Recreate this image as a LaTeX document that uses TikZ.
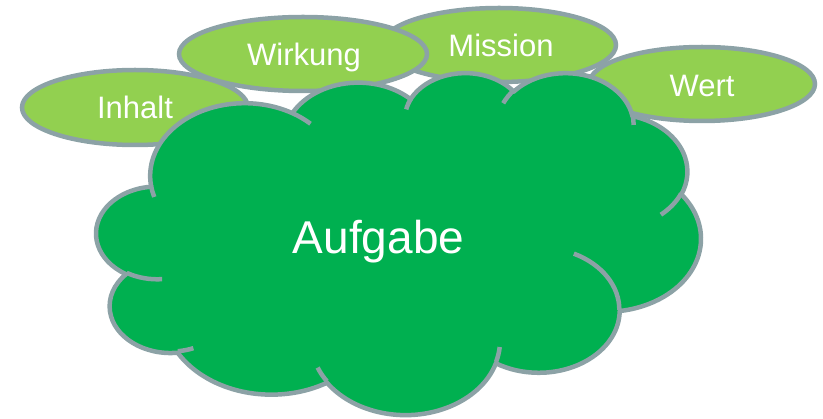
\documentclass[tikz,border=0pt]{standalone}
\usepackage{fontspec}
\setmainfont{Liberation Sans}
\usetikzlibrary{shapes.geometric}
\definecolor{outl}{RGB}{140,162,166}
\definecolor{lgreen}{RGB}{146,208,80}
\definecolor{dgreen}{RGB}{0,176,80}
\newcommand\paramang[4]{%
  \pgfmathsetmacro\padiff{atan2((#2)*sin(#4),(#3)*cos(#4)) - (#4)}%
  \pgfmathsetmacro#1{(#4) + \padiff - 360*round(\padiff/360)}}
\newcommand\arcang[6]{%
  \paramang{#1}{#3}{#4}{#5}%
  \paramang{#2}{#3}{#4}{(#5)+(#6)}}
\tikzset{
  bubble/.style={ellipse, draw=outl, fill=lgreen, line width=4.5pt, inner sep=0pt},
  lbl/.style={text=white, inner sep=0pt, anchor=base, font=\fontsize{31}{36}\selectfont},
  biglbl/.style={text=white, inner sep=0pt, anchor=base, font=\fontsize{46}{54}\selectfont},
  cloudshape/.style={draw=outl, fill=dgreen, line width=4.5pt, line join=round},
  cloudinner/.style={draw=outl, line width=4.5pt, line cap=butt}
}
\begin{document}
\begin{tikzpicture}[x=1pt, y=-1pt]
\useasboundingbox (0,0) rectangle (823,419);
% ellipses
\node[bubble, minimum width=226pt, minimum height=75pt] (inhalt) at (135,107.5) {};
\node[bubble, minimum width=234pt, minimum height=74pt] (mission) at (499,45) {};
\node[bubble, minimum width=248pt, minimum height=74pt] (wirkung) at (303,54) {};
\node[bubble, minimum width=226pt, minimum height=74pt] (wert) at (702,84) {};
\node[lbl] (tinhalt) at (135,119) {Inhalt};
\node[lbl] (twirkung) at (304,66) {Wirkung};
\node[lbl] (tmission) at (501,57) {Mission};
\node[lbl] (twert) at (702,96.5) {Wert};
% cloud angles
\arcang{\sI}{\eI}{6.753}{9.190}{-190.48748}{123.78053}
\arcang{\sII}{\eII}{5.333}{7.267}{-144.10238}{89.94523}
\arcang{\sIII}{\eIII}{4.365}{5.945}{-145.80792}{99.72302}
\arcang{\sIV}{\eIV}{4.857}{6.595}{-130.98607}{117.24173}
\arcang{\sV}{\eV}{5.333}{7.273}{-78.70888}{109.02692}
\arcang{\sVI}{\eVI}{6.775}{9.220}{-46.26725}{130.26900}
\arcang{\sVII}{\eVII}{5.785}{7.867}{0.62502}{114.03333}
\arcang{\sVIII}{\eVIII}{6.752}{9.215}{22.45160}{115.17255}
\arcang{\sIX}{\eIX}{7.720}{10.543}{66.24263}{75.71102}
\arcang{\sX}{\eX}{4.360}{5.918}{-274.94208}{146.73557}
\arcang{\sXI}{\eXI}{4.345}{5.945}{-246.82850}{152.51885}
% inner arcs
\arcang{\isI}{\ieI}{4.345}{5.945}{86.74200}{26.42950}
\arcang{\isII}{\ieII}{4.360}{5.918}{73.61047}{11.44747}
\arcang{\isIII}{\ieIII}{6.752}{9.215}{137.62415}{14.08110}
\arcang{\isIV}{\ieIV}{6.752}{9.215}{6.45327}{15.99835}
\arcang{\isV}{\ieV}{5.785}{7.867}{-70.29235}{70.91737}
\arcang{\isVI}{\ieVI}{5.333}{7.273}{30.31803}{27.75150}
\arcang{\isVII}{\ieVII}{4.857}{6.595}{-13.74433}{14.85890}
\arcang{\isVIII}{\ieVIII}{4.857}{6.595}{-149.18145}{18.19537}
\arcang{\isIX}{\ieIX}{4.365}{5.945}{-163.49427}{17.68635}
\arcang{\isX}{\ieX}{6.753}{9.190}{-66.70695}{12.31935}
\arcang{\isXI}{\ieXI}{6.753}{9.190}{157.65435}{11.85817}
\begin{scope}[shift={(96.5pt,-72pt)}, x={(13.987pt,0pt)}, y={(0pt,-7.914pt)}]
\path[cloudshape] (3.900,14.370)
  arc[x radius=6.753, y radius=9.190, start angle=\sI, end angle=\eI]
  arc[x radius=5.333, y radius=7.267, start angle=\sII, end angle=\eII]
  arc[x radius=4.365, y radius=5.945, start angle=\sIII, end angle=\eIII]
  arc[x radius=4.857, y radius=6.595, start angle=\sIV, end angle=\eIV]
  arc[x radius=5.333, y radius=7.273, start angle=\sV, end angle=\eV]
  arc[x radius=6.775, y radius=9.220, start angle=\sVI, end angle=\eVI]
  arc[x radius=5.785, y radius=7.867, start angle=\sVII, end angle=\eVII]
  arc[x radius=6.752, y radius=9.215, start angle=\sVIII, end angle=\eVIII]
  arc[x radius=7.720, y radius=10.543, start angle=\sIX, end angle=\eIX]
  arc[x radius=4.360, y radius=5.918, start angle=\sX, end angle=\eX]
  arc[x radius=4.345, y radius=5.945, start angle=\sXI, end angle=\eXI]
  -- cycle;
\path[cloudinner] (4.693,26.177) arc[x radius=4.345, y radius=5.945, start angle=\isI, end angle=\ieI];
\path[cloudinner] (6.928,34.899) arc[x radius=4.360, y radius=5.918, start angle=\isII, end angle=\ieII];
\path[cloudinner] (16.478,39.090) arc[x radius=6.752, y radius=9.215, start angle=\isIII, end angle=\ieIII];
\path[cloudinner] (28.827,34.751) arc[x radius=6.752, y radius=9.215, start angle=\isIV, end angle=\ieIV];
\path[cloudinner] (34.129,22.954) arc[x radius=5.785, y radius=7.867, start angle=\isV, end angle=\ieV];
\path[cloudinner] (41.798,15.354) arc[x radius=5.333, y radius=7.273, start angle=\isVI, end angle=\ieVI];
\path[cloudinner] (38.324,5.426) arc[x radius=4.857, y radius=6.595, start angle=\isVII, end angle=\ieVII];
\path[cloudinner] (29.078,3.952) arc[x radius=4.857, y radius=6.595, start angle=\isVIII, end angle=\ieVIII];
\path[cloudinner] (22.141,4.720) arc[x radius=4.365, y radius=5.945, start angle=\isIX, end angle=\ieIX];
\path[cloudinner] (14.000,5.192) arc[x radius=6.753, y radius=9.190, start angle=\isX, end angle=\ieX];
\path[cloudinner] (4.127,15.789) arc[x radius=6.753, y radius=9.190, start angle=\isXI, end angle=\ieXI];
\end{scope}
\node[biglbl] (aufgabe) at (378.5,254) {Aufgabe};
\end{tikzpicture}
\end{document}
